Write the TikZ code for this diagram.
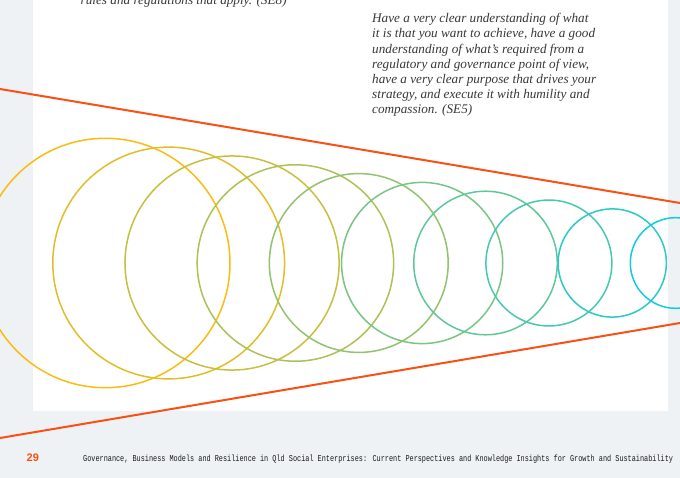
\documentclass[tikz,border=0pt]{standalone}
\usepackage{fontspec}
\setmainfont{Liberation Serif}
\newfontfamily\footmono[FakeStretch=0.762]{Liberation Mono}
\newfontfamily\pagesans{Liberation Sans}
\definecolor{pagegray}{HTML}{EEF2F5}
\definecolor{funnel}{HTML}{FA5014}
\definecolor{ringstart}{HTML}{FBBC12}
\definecolor{ringend}{HTML}{12CCDE}
\definecolor{quotegray}{HTML}{383838}

\begin{document}
\begin{tikzpicture}[x=1pt, y=-1pt,
    ring/.style={line width=1.5pt},
    edge/.style={funnel, line width=2pt},
    quotetext/.style={anchor=base west, inner sep=0pt, text=quotegray,
      font=\fontsize{13.2}{15}\selectfont\itshape}]
    \useasboundingbox (0,0) rectangle (680,478);
    \fill[pagegray] (0,0) rectangle (680,478);
    \fill[white] (33,0) rectangle (668,410.5);

    % quotes, cut off at the top of the page
    \node[quotetext] (se8) at (80.5,4.5) {rules and regulations that apply. (SE8)};
    \foreach \y/\l [count=\k] in {22.7/{Have a very clear understanding of what},
        37.9/{it is that you want to achieve, have a good},
        53.1/{understanding of what’s required from a},
        68.3/{regulatory and governance point of view,},
        83.5/{have a very clear purpose that drives your},
        98.7/{strategy, and execute it with humility and},
        113.9/{compassion. (SE5)}} {
      \node[quotetext] (se5-\k) at (372,\y) {\l};
    }

    % funnel
    \draw[edge] (0,89) -- (680,203);
    \draw[edge] (0,438) -- (680,323);

    % rings, shrinking to the right
    \foreach \i in {0,...,9} {
      \pgfmathsetmacro\pct{100-100*\i/9}
      \draw[ring, ringstart!\pct!ringend] (105.3+63.37*\i,263) circle ({124.7-8.82*\i});
    }

    % footer
    \node[anchor=base west, inner sep=0pt, text=funnel,
      font=\pagesans\bfseries\fontsize{11}{13}\selectfont] (pageno) at (26.5,461.5) {29};
    \node[anchor=base west, inner sep=0pt, text=black!90,
      font=\footmono\fontsize{9}{11}\selectfont] (runhead) at (83,461.5)
      {Governance, Business Models and Resilience in Qld Social Enterprises: Current Perspectives and Knowledge Insights for Growth and Sustainability};
\end{tikzpicture}
\end{document}
